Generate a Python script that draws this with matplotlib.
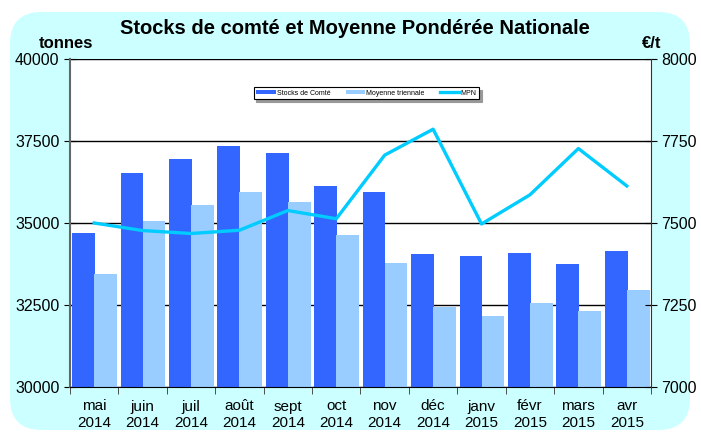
import matplotlib.pyplot as plt
from matplotlib.patches import FancyBboxPatch
import numpy as np

plt.rcParams["font.family"] = ["Liberation Sans", "DejaVu Sans"]

mois = ["mai\n2014", "juin\n2014", "juil\n2014", "août\n2014", "sept\n2014", "oct\n2014",
        "nov\n2014", "déc\n2014", "janv\n2015", "févr\n2015", "mars\n2015", "avr\n2015"]
stocks = [34700, 36520, 36950, 37340, 37130, 36130, 35950, 34060, 34000, 34090, 33760, 34150]
moyenne = [33450, 35070, 35550, 35950, 35650, 34620, 33790, 32450, 32150, 32570, 32330, 32970]
mpn = [7500, 7477, 7468, 7478, 7538, 7513, 7707, 7786, 7497, 7586, 7727, 7613]

fig = plt.figure(figsize=(7.01, 4.32), dpi=100)
fig.patch.set_facecolor("white")
bg = FancyBboxPatch((10 / 701, 2 / 432), 680 / 701, 418 / 432,
                    boxstyle="round,pad=0,rounding_size=0.045",
                    transform=fig.transFigure, facecolor="#CCFFFF",
                    edgecolor="none", zorder=-10, mutation_aspect=701 / 432)
fig.patches.append(bg)

ax = fig.add_axes([70 / 701, 45 / 432, 581 / 701, 328 / 432])
ax.set_facecolor("white")
x = np.arange(len(mois))
w = 0.47
ax.bar(x - 0.22, stocks, width=w, color="#3366FF", label="Stocks de Comté", zorder=2)
ax.bar(x + 0.235, moyenne, width=w, color="#99CCFF", label="Moyenne triennale", zorder=2)
ax.set_ylim(30000, 40000)
ax.set_yticks([30000, 32500, 35000, 37500, 40000])
ax.set_xlim(-0.5, len(mois) - 0.5)
ax.set_xticks(x)
ax.set_xticklabels(mois, fontsize=11, linespacing=1.25)
ax.set_xticks(np.arange(len(mois) + 1) - 0.5, minor=True)
ax.tick_params(axis="x", which="major", length=0, pad=9)
ax.tick_params(axis="x", which="minor", length=5, direction="out", color="#333333")
ax.tick_params(axis="y", direction="inout", length=8, labelsize=11.5)
ax.grid(axis="y", color="black", linewidth=1, zorder=1)
ax.set_axisbelow(True)
for s in ["top", "right"]:
    ax.spines[s].set_visible(False)
ax.spines["left"].set_color("#666666")
ax.spines["left"].set_linewidth(1.5)
ax.spines["bottom"].set_color("black")

ax2 = ax.twinx()
ax2.plot(x, mpn, color="#00CCFF", linewidth=2.4, label="MPN", zorder=3)
ax2.set_ylim(7000, 8000)
ax2.set_yticks([7000, 7250, 7500, 7750, 8000])
ax2.tick_params(axis="y", direction="inout", length=8, labelsize=11.5)
for s in ["top", "left", "bottom"]:
    ax2.spines[s].set_visible(False)
ax2.spines["right"].set_color("#333333")

h1, l1 = ax.get_legend_handles_labels()
h2, l2 = ax2.get_legend_handles_labels()
leg = ax2.legend(h1 + h2, l1 + l2, ncol=3, fontsize=5, loc="center",
                 bbox_to_anchor=(0.51, 0.896), frameon=True, fancybox=False,
                 edgecolor="black", handlelength=2.8, handleheight=0.6,
                 handletextpad=0.15, columnspacing=2.2, borderpad=0.4,
                 shadow={"color": "#999999", "alpha": 1})
leg.get_frame().set_linewidth(0.8)
leg.get_frame().set_alpha(1)

fig.text(355 / 701, 1 - 28 / 432, "Stocks de comté et Moyenne Pondérée Nationale",
         ha="center", va="center", fontsize=14.5, fontweight="bold")
fig.text(66 / 701, 1 - 43 / 432, "tonnes", ha="center", va="center",
         fontsize=12, fontweight="bold")
fig.text(652 / 701, 1 - 43 / 432, "€/t", ha="center", va="center",
         fontsize=12, fontweight="bold")

fig.savefig("out.png", dpi=100)
